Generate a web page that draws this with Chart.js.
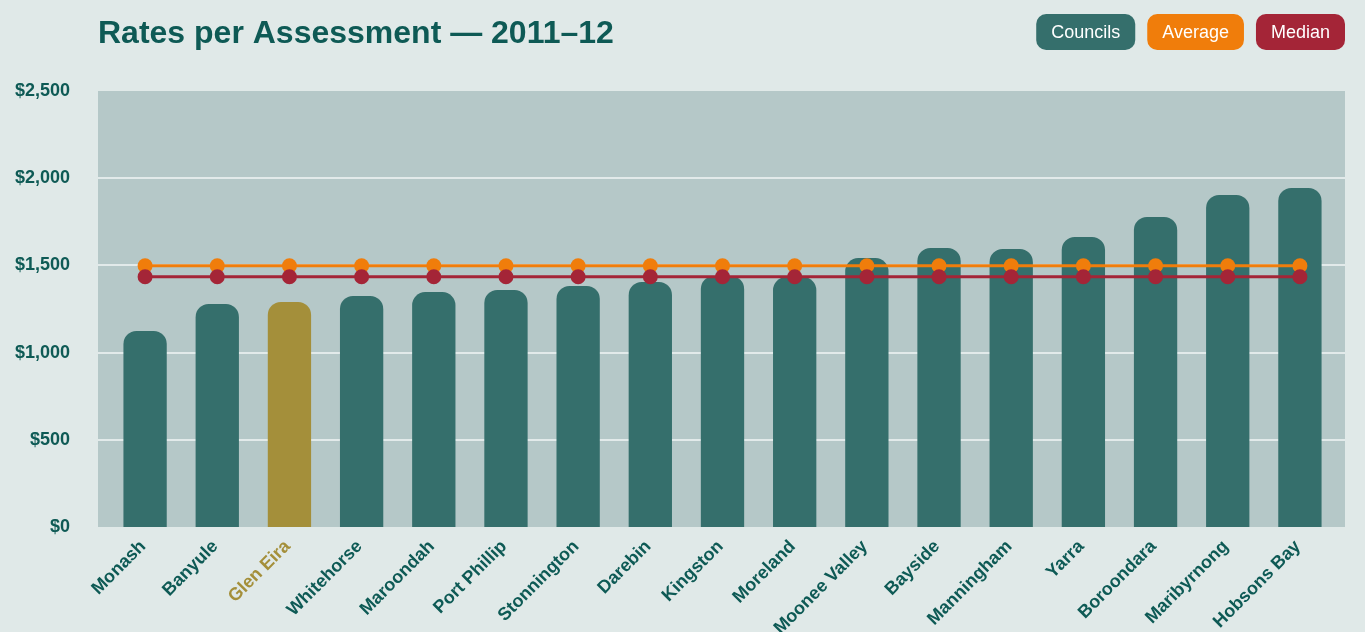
<!DOCTYPE html>
<html lang="en">
<head>
    <meta charset="UTF-8">
    <title>Rates per Assessment — 2011–12</title>
    <script src="https://cdn.jsdelivr.net/npm/chart.js"></script>
    <style>
        html, body { margin: 0; padding: 0; background: #e0e9e8; }
        canvas { display: block; }
    </style>
</head>
<body>
    <canvas id="ratesChart" width="1365" height="632"></canvas>

    <script>
        const chartTitle = 'Rates per Assessment — 2011–12';
        const councils = ['Monash', 'Banyule', 'Glen Eira', 'Whitehorse', 'Maroondah', 'Port Phillip',
            'Stonnington', 'Darebin', 'Kingston', 'Moreland', 'Moonee Valley', 'Bayside',
            'Manningham', 'Yarra', 'Boroondara', 'Maribyrnong', 'Hobsons Bay'];
        const rates = [1124, 1279, 1290, 1325, 1347, 1359, 1382, 1405, 1439, 1433, 1542, 1600,
            1594, 1663, 1778, 1904, 1944];
        const averageRate = 1498;
        const medianRate = 1435;
        const yTicks = [0, 500, 1000, 1500, 2000, 2500];
        const legendOrder = ['Councils', 'Average', 'Median'];
        const highlighted = 'Glen Eira';

        const TEAL = '#356f6c';
        const GOLD = '#a48f3a';
        const ORANGE = '#f07d0b';
        const RED = '#a42537';
        const TEXT = '#0e5a55';
        const PLOT_BG = '#b5c8c8';
        const GRID = '#e2eaea';
        const FONT = '"Liberation Sans", Arial, Helvetica, sans-serif';

        // plot panel, gridlines, title and pill legend
        const decorations = {
            id: 'decorations',
            beforeDatasetsDraw(chart) {
                const { ctx, chartArea: a, scales: { y } } = chart;
                const left = a.left - 11, right = a.right + 9;
                ctx.save();
                ctx.fillStyle = PLOT_BG;
                ctx.fillRect(left, a.top, right - left, a.bottom - a.top);
                ctx.strokeStyle = GRID;
                ctx.lineWidth = 2;
                y.ticks.forEach(t => {
                    if (t.value <= 0 || t.value >= 2500) return;
                    const py = Math.round(y.getPixelForValue(t.value));
                    ctx.beginPath();
                    ctx.moveTo(left, py);
                    ctx.lineTo(right, py);
                    ctx.stroke();
                });
                ctx.restore();
            },
            afterDraw(chart) {
                const ctx = chart.ctx;
                ctx.save();
                ctx.fillStyle = TEXT;
                ctx.font = 'bold 32px ' + FONT;
                ctx.textBaseline = 'alphabetic';
                ctx.textAlign = 'left';
                ctx.fillText(chartTitle, 98, 43);

                ctx.font = '18px ' + FONT;
                ctx.textBaseline = 'middle';
                ctx.textAlign = 'center';
                const items = legendOrder.map(name => {
                    const d = chart.data.datasets.find(ds => ds.label === name);
                    return { label: name, color: d.legendColor, w: ctx.measureText(name).width + 30 };
                });
                let x = 1345;
                for (let i = items.length - 1; i >= 0; i--) {
                    x -= items[i].w;
                    ctx.fillStyle = items[i].color;
                    ctx.beginPath();
                    ctx.roundRect(x, 14, items[i].w, 36, 10);
                    ctx.fill();
                    ctx.fillStyle = '#ffffff';
                    ctx.fillText(items[i].label, x + items[i].w / 2, 33);
                    x -= 12;
                }
                ctx.restore();
            }
        };

        const ctx = document.getElementById('ratesChart').getContext('2d');
        const chart = new Chart(ctx, {
            type: 'bar',
            data: {
                labels: councils,
                datasets: [
                    {
                        type: 'line',
                        label: 'Median',
                        data: councils.map(() => medianRate),
                        borderColor: RED,
                        backgroundColor: RED,
                        legendColor: RED,
                        borderWidth: 3,
                        pointRadius: 7.5,
                        pointHoverRadius: 8,
                        pointBorderWidth: 0,
                        order: 1
                    },
                    {
                        type: 'line',
                        label: 'Average',
                        data: councils.map(() => averageRate),
                        borderColor: ORANGE,
                        backgroundColor: ORANGE,
                        legendColor: ORANGE,
                        borderWidth: 3,
                        pointRadius: 7.5,
                        pointHoverRadius: 8,
                        pointBorderWidth: 0,
                        order: 2
                    },
                    {
                        label: 'Councils',
                        data: rates,
                        backgroundColor: councils.map(c => c === highlighted ? GOLD : TEAL),
                        legendColor: TEAL,
                        borderRadius: { topLeft: 13, topRight: 13 },
                        borderSkipped: 'bottom',
                        barPercentage: 0.6,
                        categoryPercentage: 1,
                        order: 3
                    }
                ]
            },
            options: {
                responsive: false,
                animation: false,
                layout: { padding: { top: 91, right: 29, bottom: 0, left: 0 } },
                plugins: {
                    legend: { display: false },
                    title: { display: false }
                },
                scales: {
                    x: {
                        grid: { display: false, drawTicks: false },
                        border: { display: false },
                        ticks: {
                            minRotation: 45,
                            maxRotation: 45,
                            padding: 9,
                            labelOffset: -2,
                            autoSkip: false,
                            font: { family: FONT, size: 18, weight: 'bold' },
                            color: c => councils[c.index] === highlighted ? GOLD : TEXT
                        },
                        afterFit(scale) { scale.height = 105; }
                    },
                    y: {
                        min: 0,
                        max: 2500,
                        afterBuildTicks(scale) { scale.ticks = yTicks.map(v => ({ value: v })); },
                        grid: { display: false, drawTicks: false },
                        border: { display: false },
                        ticks: {
                            padding: 39,
                            font: { family: FONT, size: 18, weight: 'bold' },
                            color: TEXT,
                            callback: v => '$' + v.toLocaleString('en-US')
                        },
                        afterFit(scale) { scale.width = 109; }
                    }
                }
            },
            plugins: [decorations]
        });
    </script>
</body>
</html>
